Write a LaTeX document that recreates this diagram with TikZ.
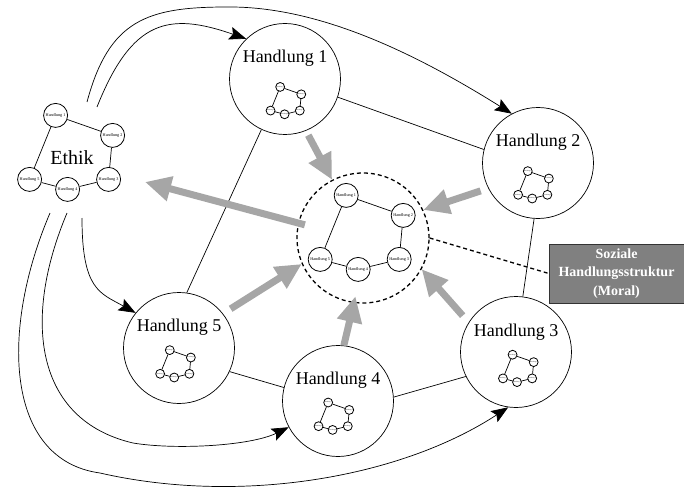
\documentclass[tikz,border=0pt]{standalone}
\usepackage{fontspec}
\setmainfont{Liberation Serif}
\usetikzlibrary{arrows.meta,calc,shapes.geometric}
\definecolor{arrgray}{RGB}{166,166,166}
\definecolor{boxgray}{RGB}{128,128,128}
\tikzset{
 bigc/.style={draw, circle, minimum size=111pt, inner sep=0pt, line width=0.7pt},
 smallc/.style={draw, circle, minimum size=24pt, inner sep=0pt, line width=0.8pt, font=\fontsize{4.2}{5}\selectfont},
 hlab/.style={font=\fontsize{18}{20}\selectfont},
 link/.style={line width=0.7pt},
 curvearr/.style={line width=0.7pt, -{Stealth[length=17pt,width=13pt,inset=3pt]}},
 garrow/.style={color=arrgray, line width=7pt, -{Triangle[length=26pt,width=24pt]}},
 dsh/.style={line width=1.3pt, dash pattern=on 4pt off 3pt},
}
\newcommand{\hstruct}[4]{%
 \begin{scope}[shift={(#2,#3)}, scale=#4, transform shape]
  \node[smallc] (#1a) at (-19,-44) {Handlung 1};
  \node[smallc] (#1b) at (38,-24) {Handlung 2};
  \node[smallc] (#1c) at (34,20) {Handlung 3};
  \node[smallc] (#1d) at (-7,30) {Handlung 4};
  \node[smallc] (#1e) at (-45,20) {Handlung 5};
  \draw[line width=0.7pt] (#1a)--(#1b)--(#1c)--(#1d)--(#1e)--(#1a);
 \end{scope}}
\begin{document}
\begin{tikzpicture}[x=1pt,y=-1pt]
\useasboundingbox (0,0) rectangle (684,489);
% big circles
\node[bigc, label={[hlab, yshift=21pt]center:Handlung 1}] (h1) at (285,79) {};
\node[bigc, label={[hlab, yshift=21pt]center:Handlung 2}] (h2) at (538,163) {};
\node[bigc, label={[hlab, yshift=20pt]center:Handlung 3}] (h3) at (516,352) {};
\node[bigc, label={[hlab, yshift=21pt]center:Handlung 4}] (h4) at (338,401) {};
\node[bigc, label={[hlab, yshift=21pt]center:Handlung 5}] (h5) at (179,348) {};
% mini structures
\hstruct{pa}{287.2}{103.2}{0.37}
\hstruct{pb}{534.8}{187.4}{0.37}
\hstruct{pc}{519.6}{371}{0.37}
\hstruct{pd}{335.2}{418.8}{0.37}
\hstruct{pe}{176.8}{366.4}{0.37}
% Ethik
\hstruct{e}{74.6}{159.4}{1}
\node[font=\fontsize{20}{22}\selectfont] (ethik) at (72,158) {Ethik};
% central structure
\node[draw, dsh, ellipse, minimum width=132pt, minimum height=130pt] (mid) at (363,238) {};
\hstruct{m}{365.2}{239.4}{1}
% Moral box (extends past the right edge)
\filldraw[fill=boxgray, draw=black!80, line width=0.8pt] (549,244) rectangle (692,303);
\node[text=white, font=\bfseries\fontsize{14}{18.3}\selectfont, align=center, minimum width=135pt, minimum height=59pt, inner sep=0pt] (soz) at (616.5,273.5) {Soziale\\Handlungsstruktur\\(Moral)};
\draw[dsh] (mid.east) -- (soz.west);
% plain links
\draw[link] (h1.341) -- (h2.166);
\draw[link] (h2.266) -- (h3.83);
\draw[link] (h4.4) -- (h3.206);
\draw[link] (h5.335) -- (h4.166);
\draw[link] (h5.82) -- (h1.245);
% curve starts
\coordinate (sA) at (97,107);
\coordinate (sB) at (87,102);
\coordinate (sC) at (82,218);
\coordinate (sD) at (67,213);
\coordinate (sE) at (50,213);
\coordinate (ethin) at (145,182);
% curved arrows
\draw[curvearr] (sA) .. controls (132,19) and (169,12) .. (h1.134);
\draw[curvearr] (sB) .. controls (109,20) and (147,7) .. (227,7) .. controls (320,6) and (418,55) .. (h2.118);
\draw[curvearr] (sC) .. controls (82,290) and (100,293) .. (h5.141);
\draw[curvearr] (sD) .. controls (22,320) and (35,420) .. (133,443) .. controls (175,450) and (250,446) .. (h4.208);
\draw[curvearr] (sE) .. controls (0,330) and (5,460) .. (100,473) .. controls (240,505) and (400,478) .. (h3.262);
% gray arrows
\draw[garrow, shorten <=5pt] (h1.292) -- (mid.118);
\draw[garrow, shorten <=8pt] (h2.207) -- (mid.25);
\draw[garrow, shorten <=-7pt] (mid.167) -- (ethin);
\draw[garrow, shorten <=9pt] (h5.38) -- (mid.203);
\draw[garrow, shorten >=-7pt] (h4.84) -- (mid.262);
\draw[garrow, shorten <=9pt] (h3.148) -- (mid.332);
\end{tikzpicture}
\end{document}
